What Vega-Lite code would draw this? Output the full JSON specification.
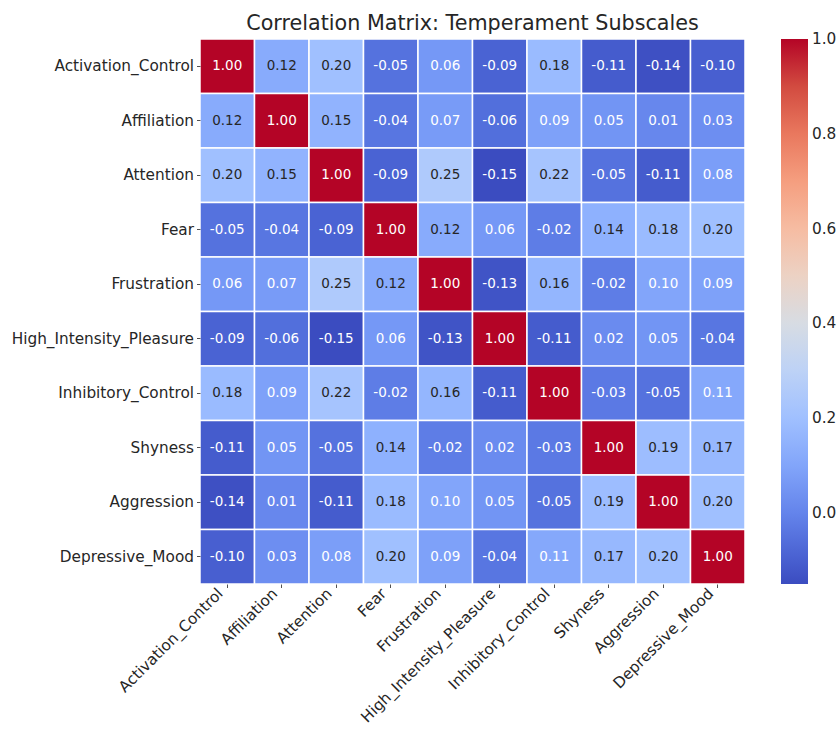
{
  "$schema": "https://vega.github.io/schema/vega-lite/v6.json",
  "autosize": "none",
  "width": 545,
  "height": 545,
  "padding": {"left": 200, "top": 39, "right": 95, "bottom": 145},
  "background": "white",
  "config": {
    "view": {"stroke": null},
    "font": "DejaVu Sans",
    "locale": {"number": {"decimal": ".", "thousands": ",", "grouping": [3], "currency": ["$", ""], "minus": "-"}}
  },
  "title": {
    "text": "Correlation Matrix: Temperament Subscales",
    "font": "DejaVu Sans",
    "fontSize": 20.7,
    "fontWeight": "normal",
    "color": "#262626",
    "anchor": "middle",
    "offset": 4
  },
  "data": {
    "values": [
      {"row": "Activation_Control", "col": "Activation_Control", "v": 1.00},
      {"row": "Activation_Control", "col": "Affiliation", "v": 0.12},
      {"row": "Activation_Control", "col": "Attention", "v": 0.20},
      {"row": "Activation_Control", "col": "Fear", "v": -0.05},
      {"row": "Activation_Control", "col": "Frustration", "v": 0.06},
      {"row": "Activation_Control", "col": "High_Intensity_Pleasure", "v": -0.09},
      {"row": "Activation_Control", "col": "Inhibitory_Control", "v": 0.18},
      {"row": "Activation_Control", "col": "Shyness", "v": -0.11},
      {"row": "Activation_Control", "col": "Aggression", "v": -0.14},
      {"row": "Activation_Control", "col": "Depressive_Mood", "v": -0.10},
      {"row": "Affiliation", "col": "Activation_Control", "v": 0.12},
      {"row": "Affiliation", "col": "Affiliation", "v": 1.00},
      {"row": "Affiliation", "col": "Attention", "v": 0.15},
      {"row": "Affiliation", "col": "Fear", "v": -0.04},
      {"row": "Affiliation", "col": "Frustration", "v": 0.07},
      {"row": "Affiliation", "col": "High_Intensity_Pleasure", "v": -0.06},
      {"row": "Affiliation", "col": "Inhibitory_Control", "v": 0.09},
      {"row": "Affiliation", "col": "Shyness", "v": 0.05},
      {"row": "Affiliation", "col": "Aggression", "v": 0.01},
      {"row": "Affiliation", "col": "Depressive_Mood", "v": 0.03},
      {"row": "Attention", "col": "Activation_Control", "v": 0.20},
      {"row": "Attention", "col": "Affiliation", "v": 0.15},
      {"row": "Attention", "col": "Attention", "v": 1.00},
      {"row": "Attention", "col": "Fear", "v": -0.09},
      {"row": "Attention", "col": "Frustration", "v": 0.25},
      {"row": "Attention", "col": "High_Intensity_Pleasure", "v": -0.15},
      {"row": "Attention", "col": "Inhibitory_Control", "v": 0.22},
      {"row": "Attention", "col": "Shyness", "v": -0.05},
      {"row": "Attention", "col": "Aggression", "v": -0.11},
      {"row": "Attention", "col": "Depressive_Mood", "v": 0.08},
      {"row": "Fear", "col": "Activation_Control", "v": -0.05},
      {"row": "Fear", "col": "Affiliation", "v": -0.04},
      {"row": "Fear", "col": "Attention", "v": -0.09},
      {"row": "Fear", "col": "Fear", "v": 1.00},
      {"row": "Fear", "col": "Frustration", "v": 0.12},
      {"row": "Fear", "col": "High_Intensity_Pleasure", "v": 0.06},
      {"row": "Fear", "col": "Inhibitory_Control", "v": -0.02},
      {"row": "Fear", "col": "Shyness", "v": 0.14},
      {"row": "Fear", "col": "Aggression", "v": 0.18},
      {"row": "Fear", "col": "Depressive_Mood", "v": 0.20},
      {"row": "Frustration", "col": "Activation_Control", "v": 0.06},
      {"row": "Frustration", "col": "Affiliation", "v": 0.07},
      {"row": "Frustration", "col": "Attention", "v": 0.25},
      {"row": "Frustration", "col": "Fear", "v": 0.12},
      {"row": "Frustration", "col": "Frustration", "v": 1.00},
      {"row": "Frustration", "col": "High_Intensity_Pleasure", "v": -0.13},
      {"row": "Frustration", "col": "Inhibitory_Control", "v": 0.16},
      {"row": "Frustration", "col": "Shyness", "v": -0.02},
      {"row": "Frustration", "col": "Aggression", "v": 0.10},
      {"row": "Frustration", "col": "Depressive_Mood", "v": 0.09},
      {"row": "High_Intensity_Pleasure", "col": "Activation_Control", "v": -0.09},
      {"row": "High_Intensity_Pleasure", "col": "Affiliation", "v": -0.06},
      {"row": "High_Intensity_Pleasure", "col": "Attention", "v": -0.15},
      {"row": "High_Intensity_Pleasure", "col": "Fear", "v": 0.06},
      {"row": "High_Intensity_Pleasure", "col": "Frustration", "v": -0.13},
      {"row": "High_Intensity_Pleasure", "col": "High_Intensity_Pleasure", "v": 1.00},
      {"row": "High_Intensity_Pleasure", "col": "Inhibitory_Control", "v": -0.11},
      {"row": "High_Intensity_Pleasure", "col": "Shyness", "v": 0.02},
      {"row": "High_Intensity_Pleasure", "col": "Aggression", "v": 0.05},
      {"row": "High_Intensity_Pleasure", "col": "Depressive_Mood", "v": -0.04},
      {"row": "Inhibitory_Control", "col": "Activation_Control", "v": 0.18},
      {"row": "Inhibitory_Control", "col": "Affiliation", "v": 0.09},
      {"row": "Inhibitory_Control", "col": "Attention", "v": 0.22},
      {"row": "Inhibitory_Control", "col": "Fear", "v": -0.02},
      {"row": "Inhibitory_Control", "col": "Frustration", "v": 0.16},
      {"row": "Inhibitory_Control", "col": "High_Intensity_Pleasure", "v": -0.11},
      {"row": "Inhibitory_Control", "col": "Inhibitory_Control", "v": 1.00},
      {"row": "Inhibitory_Control", "col": "Shyness", "v": -0.03},
      {"row": "Inhibitory_Control", "col": "Aggression", "v": -0.05},
      {"row": "Inhibitory_Control", "col": "Depressive_Mood", "v": 0.11},
      {"row": "Shyness", "col": "Activation_Control", "v": -0.11},
      {"row": "Shyness", "col": "Affiliation", "v": 0.05},
      {"row": "Shyness", "col": "Attention", "v": -0.05},
      {"row": "Shyness", "col": "Fear", "v": 0.14},
      {"row": "Shyness", "col": "Frustration", "v": -0.02},
      {"row": "Shyness", "col": "High_Intensity_Pleasure", "v": 0.02},
      {"row": "Shyness", "col": "Inhibitory_Control", "v": -0.03},
      {"row": "Shyness", "col": "Shyness", "v": 1.00},
      {"row": "Shyness", "col": "Aggression", "v": 0.19},
      {"row": "Shyness", "col": "Depressive_Mood", "v": 0.17},
      {"row": "Aggression", "col": "Activation_Control", "v": -0.14},
      {"row": "Aggression", "col": "Affiliation", "v": 0.01},
      {"row": "Aggression", "col": "Attention", "v": -0.11},
      {"row": "Aggression", "col": "Fear", "v": 0.18},
      {"row": "Aggression", "col": "Frustration", "v": 0.10},
      {"row": "Aggression", "col": "High_Intensity_Pleasure", "v": 0.05},
      {"row": "Aggression", "col": "Inhibitory_Control", "v": -0.05},
      {"row": "Aggression", "col": "Shyness", "v": 0.19},
      {"row": "Aggression", "col": "Aggression", "v": 1.00},
      {"row": "Aggression", "col": "Depressive_Mood", "v": 0.20},
      {"row": "Depressive_Mood", "col": "Activation_Control", "v": -0.10},
      {"row": "Depressive_Mood", "col": "Affiliation", "v": 0.03},
      {"row": "Depressive_Mood", "col": "Attention", "v": 0.08},
      {"row": "Depressive_Mood", "col": "Fear", "v": 0.20},
      {"row": "Depressive_Mood", "col": "Frustration", "v": 0.09},
      {"row": "Depressive_Mood", "col": "High_Intensity_Pleasure", "v": -0.04},
      {"row": "Depressive_Mood", "col": "Inhibitory_Control", "v": 0.11},
      {"row": "Depressive_Mood", "col": "Shyness", "v": 0.17},
      {"row": "Depressive_Mood", "col": "Aggression", "v": 0.20},
      {"row": "Depressive_Mood", "col": "Depressive_Mood", "v": 1.00}
    ]
  },
  "encoding": {
    "x": {
      "field": "col",
      "type": "nominal",
      "sort": ["Activation_Control", "Affiliation", "Attention", "Fear", "Frustration", "High_Intensity_Pleasure", "Inhibitory_Control", "Shyness", "Aggression", "Depressive_Mood"],
      "scale": {"paddingInner": 0, "paddingOuter": 0},
      "axis": {
        "title": null,
        "orient": "bottom",
        "labelAngle": -45,
        "labelAlign": "right",
        "labelBaseline": "middle",
        "labelOffset": -7,
        "labelFont": "DejaVu Sans",
        "labelFontSize": 15.3,
        "labelColor": "#262626",
        "labelPadding": 3,
        "tickColor": "#262626",
        "tickSize": 3.5,
        "tickWidth": 0.8,
        "domain": false,
        "labelLimit": 300
      }
    },
    "y": {
      "field": "row",
      "type": "nominal",
      "sort": ["Activation_Control", "Affiliation", "Attention", "Fear", "Frustration", "High_Intensity_Pleasure", "Inhibitory_Control", "Shyness", "Aggression", "Depressive_Mood"],
      "scale": {"paddingInner": 0, "paddingOuter": 0},
      "axis": {
        "title": null,
        "labelFont": "DejaVu Sans",
        "labelFontSize": 15.3,
        "labelColor": "#262626",
        "labelPadding": 3,
        "tickColor": "#262626",
        "tickSize": 3.5,
        "tickWidth": 0.8,
        "domain": false,
        "labelLimit": 300
      }
    }
  },
  "layer": [
    {
      "mark": {"type": "rect", "stroke": "white", "strokeWidth": 1.5},
      "encoding": {
        "color": {
          "field": "v",
          "type": "quantitative",
          "scale": {
            "domain": [-0.15, -0.078125, -0.00625, 0.065625, 0.1375, 0.209375, 0.28125, 0.353125, 0.425, 0.496875, 0.56875, 0.640625, 0.7125, 0.784375, 0.85625, 0.928125, 1.0],
            "range": ["#3b4cc0", "#4d68d7", "#6282ea", "#779af7", "#8db0fe", "#a3c2ff", "#b8d0f9", "#ccd9ee", "#dddddd", "#ecd3c5", "#f5c4ad", "#f7b194", "#f49a7b", "#ec7f63", "#de604d", "#cb3e38", "#b40426"],
            "interpolate": "rgb"
          },
          "legend": {
            "title": null,
            "orient": "none",
            "legendX": 581,
            "legendY": 0,
            "padding": 0,
            "direction": "vertical",
            "gradientLength": 545,
            "gradientThickness": 27,
            "gradientStrokeWidth": 0,
            "values": [0, 0.2, 0.4, 0.6, 0.8, 1.0],
            "format": ".1f",
            "labelFont": "DejaVu Sans",
            "labelFontSize": 15.3,
            "labelColor": "#262626",
            "labelOffset": 4,
            "labelBaseline": "middle",
            "labelOverlap": false,
            "encode": {"labels": {"update": {"baseline": {"value": "middle"}}}}
          }
        }
      }
    },
    {
      "mark": {"type": "text", "font": "DejaVu Sans", "fontSize": 13.5},
      "encoding": {
        "text": {"field": "v", "type": "quantitative", "format": ".2f"},
        "color": {
          "condition": {"test": "datum.v < 0.115 || datum.v > 0.7", "value": "#ffffff"},
          "value": "#262626"
        }
      }
    }
  ]
}
